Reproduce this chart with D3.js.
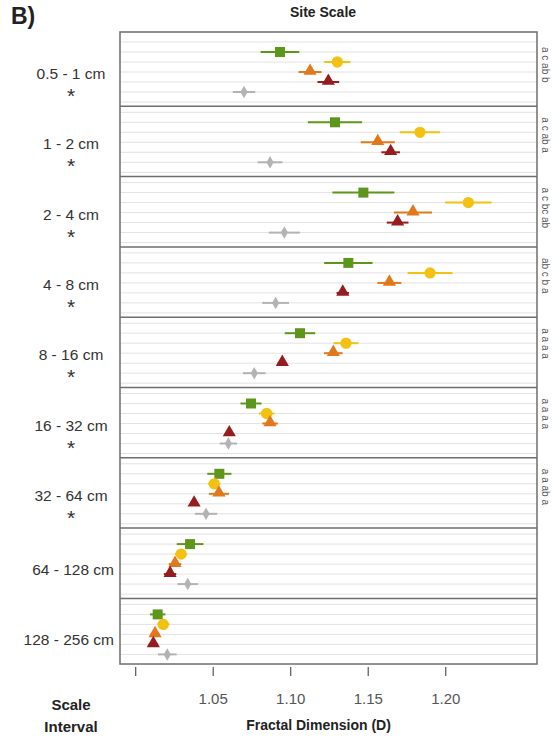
<!DOCTYPE html>
<html><head><meta charset="utf-8">
<script src="https://cdn.jsdelivr.net/npm/d3@7"></script>
<style>body{margin:0;background:#fff;} text{font-family:"Liberation Sans",Arial,sans-serif;}</style>
</head><body>
<svg id="c" width="560" height="740"></svg>
<script>
const intervals = ["0.5 - 1 cm","1 - 2 cm","2 - 4 cm","4 - 8 cm","8 - 16 cm","16 - 32 cm","32 - 64 cm","64 - 128 cm","128 - 256 cm"];
const stars = [true,true,true,true,true,true,true,false,false];
const seriesNames = ["green","yellow","orange","red","gray"];
const seriesColors = ["#5e961c","#f3c111","#e2781c","#961d1f","#b3b3b3"];
const seriesShapes = ["square","circle","triangle","triangle","diamond"];
const greenMean  = [1.0934,1.1289,1.1472,1.1375,1.1063,1.0747,1.0543,1.0354,1.0145];
const greenErr   = [0.0125,0.0175,0.0200,0.0156,0.0098,0.0068,0.0078,0.0086,0.0050];
const yellowMean = [1.1304,1.1837,1.2149,1.1902,1.1360,1.0848,1.0510,1.0296,1.0181];
const yellowErr  = [0.0085,0.0130,0.0150,0.0145,0.0080,0.0050,0.0040,0.0040,0.0040];
const orangeMean = [1.1128,1.1565,1.1792,1.1640,1.1278,1.0870,1.0540,1.0257,1.0128];
const orangeErr  = [0.0074,0.0110,0.0123,0.0077,0.0060,0.0050,0.0065,0.0040,0.0030];
const redMean    = [1.1246,1.1648,1.1693,1.1339,1.0949,1.0607,1.0380,1.0225,1.0117];
const redErr     = [0.0070,0.0060,0.0070,0.0040,0.0030,0.0020,0.0020,0.0040,0.0030];
const grayMean   = [1.0702,1.0870,1.0962,1.0906,1.0768,1.0601,1.0457,1.0339,1.0207];
const grayErr    = [0.0072,0.0080,0.0100,0.0086,0.0073,0.0056,0.0072,0.0066,0.0060];
const letters = ["a c ab b","a c ab a","a c bc ab","ab c b a","a a a a","a a a a","a a ab a","",""];
const xTicks = [1.00,1.05,1.10,1.15,1.20];
const xTickLabels = ["","1.05","1.10","1.15","1.20"];

const means = [greenMean,yellowMean,orangeMean,redMean,grayMean];
const errs = [greenErr,yellowErr,orangeErr,redErr,grayErr];

const svg = d3.select("#c");
const L=120,R=537,T=32,B=664;
const x = d3.scaleLinear().domain([0.9902,1.2592]).range([L,R]);
const yP = d3.scaleBand().domain(intervals).range([36,668.7]);
const yR = d3.scalePoint().domain(seriesNames).range([16,56]);
const bw = yP.bandwidth();

// gridlines
intervals.forEach(iv=>{
  for(let k=0;k<7;k++){
    const yy = yP(iv)+6+k*10;
    if(yy>=B-1) continue;
    svg.append("line").attr("x1",L).attr("x2",R).attr("y1",yy).attr("y2",yy)
      .attr("stroke","#e2e2e2").attr("stroke-width",1);
  }
});
// panel separators
intervals.forEach((iv,i)=>{
  if(i>0) svg.append("line").attr("x1",L).attr("x2",R).attr("y1",yP(iv)).attr("y2",yP(iv))
    .attr("stroke","#6e6e6e").attr("stroke-width",1.5);
});
svg.append("rect").attr("x",L).attr("y",T).attr("width",R-L).attr("height",B-T)
  .attr("fill","none").attr("stroke","#6e6e6e").attr("stroke-width",1.5);

const symType = {square:d3.symbolSquare,circle:d3.symbolCircle,triangle:d3.symbolTriangle,diamond:d3.symbolDiamond};
const symSize = {square:100,circle:100,triangle:75,diamond:45};

intervals.forEach((iv,i)=>{
  seriesNames.forEach((s,j)=>{
    const m = means[j][i], e = errs[j][i];
    const yy = yP(iv)+yR(s);
    svg.append("line").attr("x1",x(m-e)).attr("x2",x(m+e)).attr("y1",yy).attr("y2",yy)
      .attr("stroke",seriesColors[j]).attr("stroke-width",2);
    const sh = seriesShapes[j];
    svg.append("path").attr("d",d3.symbol(symType[sh],symSize[sh])())
      .attr("transform",`translate(${x(m)},${yy+(sh==="triangle"?-1:0)})`)
      .attr("fill",seriesColors[j]);
  });
  // left labels
  const cy = yP(iv)+bw/2;
  if(stars[i]){
    svg.append("text").attr("x",71).attr("y",cy+8).attr("text-anchor","middle")
      .attr("font-size",15.5).attr("fill","#333").text(iv);
    svg.append("text").attr("x",71).attr("y",cy+32).attr("text-anchor","middle")
      .attr("font-size",21).attr("fill","#333").text("*");
  } else {
    svg.append("text").attr("x",114).attr("y",cy+11.5).attr("text-anchor","end")
      .attr("font-size",15.5).attr("fill","#333").text(iv);
  }
  if(letters[i]){
    svg.append("text").attr("transform",`translate(${R+5},${yP(iv)+11}) rotate(90)`)
      .attr("font-size",10).attr("fill","#555").text(letters[i]);
  }
});

// x axis
const ax = svg.append("g").attr("transform",`translate(0,${B})`)
  .call(d3.axisBottom(x).tickValues(xTicks).tickFormat((d,i)=>xTickLabels[i]).tickSize(12).tickPadding(17));
ax.select(".domain").remove();
ax.selectAll(".tick line").attr("stroke","#555").attr("stroke-width",1.2).attr("y1",3);
ax.selectAll(".tick text").attr("font-size",15).attr("fill","#555").attr("font-family","Liberation Sans, Arial, sans-serif");

svg.append("text").attr("x",(L+R)/2-10).attr("y",730).attr("text-anchor","middle")
  .attr("font-size",14).attr("font-weight","bold").attr("fill","#222").text("Fractal Dimension (D)");
svg.append("text").attr("x",71).attr("y",710).attr("text-anchor","middle")
  .attr("font-size",15).attr("font-weight","bold").attr("fill","#222").text("Scale");
svg.append("text").attr("x",71).attr("y",732).attr("text-anchor","middle")
  .attr("font-size",15).attr("font-weight","bold").attr("fill","#222").text("Interval");
svg.append("text").attr("x",323).attr("y",17).attr("text-anchor","middle")
  .attr("font-size",14).attr("font-weight","bold").attr("fill","#222").text("Site Scale");
svg.append("text").attr("x",11).attr("y",24)
  .attr("font-size",23).attr("font-weight","bold").attr("fill","#222").text("B)");
</script>
</body></html>
